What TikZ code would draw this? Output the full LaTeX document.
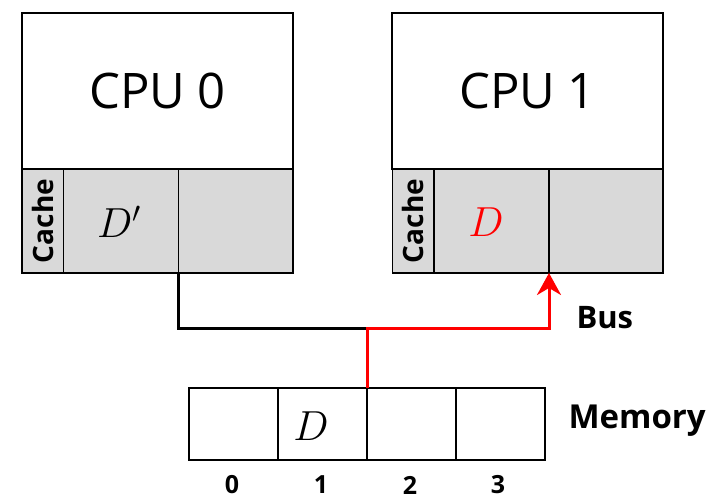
\RequirePackage{fix-cm}
\documentclass[tikz,border=0pt]{standalone}
\usepackage{fontspec}
\setmainfont{Open Sans}
\usetikzlibrary{arrows.meta}
\definecolor{cachegray}{HTML}{D9D9D9}
\definecolor{busred}{HTML}{FF0000}
\tikzset{
  box/.style={draw, line width=1.7pt, inner sep=0pt, outer sep=0pt, anchor=center},
  cell/.style={box, fill=cachegray},
  cpubox/.style={box, fill=white, minimum width=271pt, minimum height=156pt,
    font=\fontsize{49}{49}\selectfont},
  memcell/.style={box, fill=white, minimum width=89pt, minimum height=72pt},
  cachelabel/.style={cell, minimum width=41.5pt, minimum height=104pt},
  datacell/.style={cell, minimum width=115pt, minimum height=104pt},
  cachetext/.style={font=\bfseries\fontsize{28}{28}\selectfont, rotate=90},
  datatext/.style={font=\fontsize{42}{42}\selectfont},
  boldlabel/.style={font=\bfseries\fontsize{31}{31}\selectfont},
  idxlabel/.style={font=\bfseries\fontsize{25}{25}\selectfont},
  busline/.style={line width=3pt},
}
\begin{document}
\begin{tikzpicture}[x=1pt, y=-1pt]
\useasboundingbox (0,0) rectangle (723,500);

% CPU 0 with its cache line
\node[cpubox] (cpu0) at (157.5,91) {CPU 0};
\node[cachelabel] (c0lab) at (42.75,221) {};
\node[cachetext] at (c0lab.center) {Cache};
\node[datacell] (c0a) at (121,221) {};
\node[datatext] at (119,222) {$D'$};
\node[datacell, minimum width=114.5pt] (c0b) at (235.75,221) {};

% CPU 1 with its cache line
\node[cpubox] (cpu1) at (527.5,91) {CPU 1};
\node[cachelabel] (c1lab) at (413.25,221) {};
\node[cachetext] at (c1lab.center) {Cache};
\node[datacell] (c1a) at (491.5,221) {};
\node[datatext, text=busred] at (486,222) {$D$};
\node[datacell, minimum width=114pt] (c1b) at (606,221) {};

% Memory cells
\node[memcell] (m0) at (233.5,424) {};
\node[memcell] (m1) at (322.5,424) {};
\node[memcell] (m2) at (411.5,424) {};
\node[memcell] (m3) at (500.5,424) {};
\node[datatext] at (311,426) {$D$};
\node[boldlabel, anchor=west, font=\bfseries\fontsize{33}{33}\selectfont] (memlab) at (565,421) {Memory};

\node[idxlabel] at (232,485) {0};
\node[idxlabel] at (321,485) {1};
\node[idxlabel] at (410,485) {2};
\node[idxlabel] at (498,485) {3};

% Bus
\coordinate (junc) at (m2.north west |- 0,328);
\coordinate (bend0) at (c0b.south west |- 0,328);
\coordinate (bend1) at (c1b.south west |- 0,328);
\draw[busline, line join=miter] (c0b.south west) -- (bend0) -- (junc);
\draw[busline, busred, line join=miter, -{Stealth[length=22pt, width=24pt, inset=7pt]}]
  (m2.north west) -- (junc) -- (bend1) -- (c1b.south west);
\node[boldlabel, anchor=west] (buslab) at (573,318) {Bus};
\end{tikzpicture}
\end{document}
